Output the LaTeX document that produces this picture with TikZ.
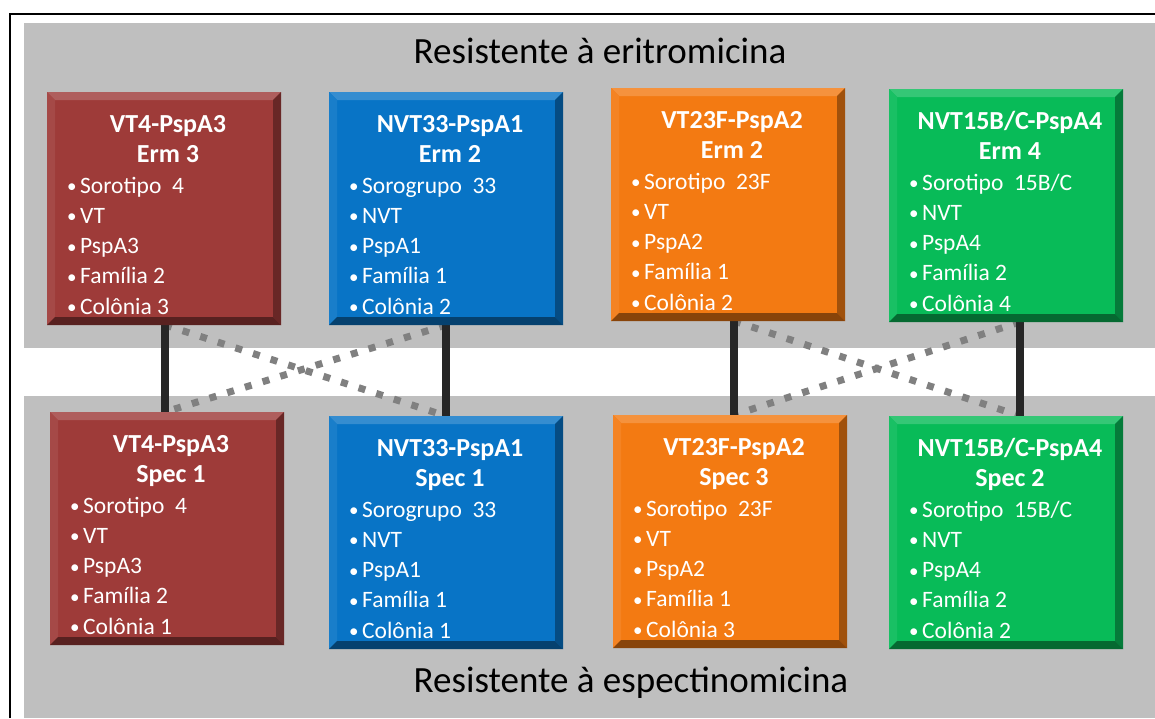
\documentclass[tikz,border=0pt]{standalone}
\usepackage{fontspec}
\setmainfont{Carlito}
\definecolor{panelgray}{RGB}{191,191,191}
\definecolor{cred}{RGB}{158,59,57}
\definecolor{cblue}{RGB}{8,116,198}
\definecolor{corange}{RGB}{243,122,18}
\definecolor{cgreen}{RGB}{8,187,88}
\definecolor{linkdark}{RGB}{38,38,38}
\definecolor{linkgray}{RGB}{128,128,128}
\pgfdeclarelayer{panel}
\pgfdeclarelayer{links}
\pgfsetlayers{panel,links,main}
\tikzset{
  card/.style={fill=#1, minimum width=234pt, minimum height=233pt,
    inner sep=0pt, outer sep=0pt, anchor=north west,
    path picture={
      % bevelled rim: light top and left, dark right and bottom
      \fill[#1!82!white]
        (path picture bounding box.north west) -- (path picture bounding box.north east)
        -- ([shift={(-8pt,-8pt)}]path picture bounding box.north east)
        -- ([shift={(8pt,-8pt)}]path picture bounding box.north west) -- cycle;
      \fill[#1!93!white]
        (path picture bounding box.north west) -- (path picture bounding box.south west)
        -- ([shift={(8pt,8pt)}]path picture bounding box.south west)
        -- ([shift={(8pt,-8pt)}]path picture bounding box.north west) -- cycle;
      \fill[#1!66!black]
        (path picture bounding box.north east) -- (path picture bounding box.south east)
        -- ([shift={(-8pt,8pt)}]path picture bounding box.south east)
        -- ([shift={(-8pt,-8pt)}]path picture bounding box.north east) -- cycle;
      \fill[#1!56!black]
        (path picture bounding box.south west) -- (path picture bounding box.south east)
        -- ([shift={(-8pt,8pt)}]path picture bounding box.south east)
        -- ([shift={(8pt,8pt)}]path picture bounding box.south west) -- cycle;
    }},
  ttl/.style={text=white, inner sep=0pt, font=\fontsize{26}{30}\selectfont\bfseries},
  bul/.style={text=white, inner sep=0pt, font=\fontsize{23.5}{30}\selectfont},
  heading/.style={text=black, inner sep=0pt, font=\fontsize{37}{42}\selectfont},
  solidlink/.style={draw=linkdark, line width=8pt},
  dotlink/.style={draw=linkgray, line width=7pt, dash pattern=on 7pt off 11.5pt},
}
% small round bullet set before each list line
\newcommand\dotmark{\makebox[13pt][l]{\raisebox{0.5pt}{\fontsize{19}{19}\selectfont •}}}
% one coloured card: name, left, top, colour, title, subtitle, bullet list
\newcommand\card[7]{%
  \node[card=#4] (#1) at (#2,#3) {};
  \node[ttl, anchor=base] (#1-t) at ({#2+121},{#3+40}) {#5};
  \node[ttl, anchor=base] (#1-s) at ({#2+121},{#3+70}) {#6};
  \foreach \itm [count=\i] in {#7} {
    \node[bul, anchor=base west] (#1-b\i) at ({#2+20},{#3+101+30.3*(\i-1)})
      {\dotmark\itm};
  }%
}
\begin{document}
\begin{tikzpicture}[x=1pt,y=-1pt]
  \useasboundingbox (0,0) rectangle (1155,718);
  \begin{pgfonlayer}{panel}
    \fill[white] (0,0) rectangle (1155,718);
    \fill[panelgray] (24,23) rectangle (1155,348);
    \fill[panelgray] (24,396) rectangle (1155,718);
    \draw[line width=2pt] (10,718) -- (10,14) -- (1155,14);
  \end{pgfonlayer}

  \node[heading, anchor=base] (topttl) at (600,63) {Resistente à eritromicina};
  \node[heading, anchor=base] (botttl) at (631,692) {Resistente à espectinomicina};

  \card{r1}{47}{92}{cred}{VT4-PspA3}{Erm 3}{Sorotipo~~4, VT, PspA3, Família 2, Colônia 3}
  \card{b1}{329}{92}{cblue}{NVT33-PspA1}{Erm 2}{Sorogrupo~~33, NVT, PspA1, Família 1, Colônia 2}
  \card{o1}{611}{88}{corange}{VT23F-PspA2}{Erm 2}{Sorotipo~~23F, VT, PspA2, Família 1, Colônia 2}
  \card{g1}{889}{89}{cgreen}{NVT15B/C-PspA4}{Erm 4}{Sorotipo~~15B/C, NVT, PspA4, Família 2, Colônia 4}

  \card{r2}{50}{412}{cred}{VT4-PspA3}{Spec 1}{Sorotipo~~4, VT, PspA3, Família 2, Colônia 1}
  \card{b2}{329}{416}{cblue}{NVT33-PspA1}{Spec 1}{Sorogrupo~~33, NVT, PspA1, Família 1, Colônia 1}
  \card{o2}{613}{415}{corange}{VT23F-PspA2}{Spec 3}{Sorotipo~~23F, VT, PspA2, Família 1, Colônia 3}
  \card{g2}{889}{416}{cgreen}{NVT15B/C-PspA4}{Spec 2}{Sorotipo~~15B/C, NVT, PspA4, Família 2, Colônia 2}

  \begin{pgfonlayer}{links}
    % crossed dotted links between neighbouring strains
    \draw[dotlink] ([xshift=1pt]r1.south) -- (b2.north);
    \draw[dotlink] (b1.south) -- ([xshift=-2pt]r2.north);
    \draw[dotlink] ([xshift=6pt]o1.south) -- ([xshift=14pt]g2.north);
    \draw[dotlink] ([xshift=14pt]g1.south) -- ([xshift=4pt]o2.north);
    % solid links between the same strain
    \draw[solidlink] ([xshift=1pt]r1.south) -- ([xshift=-2pt]r2.north);
    \draw[solidlink] (b1.south) -- (b2.north);
    \draw[solidlink] ([xshift=6pt]o1.south) -- ([xshift=4pt]o2.north);
    \draw[solidlink] ([xshift=14pt]g1.south) -- ([xshift=14pt]g2.north);
  \end{pgfonlayer}
\end{tikzpicture}
\end{document}
